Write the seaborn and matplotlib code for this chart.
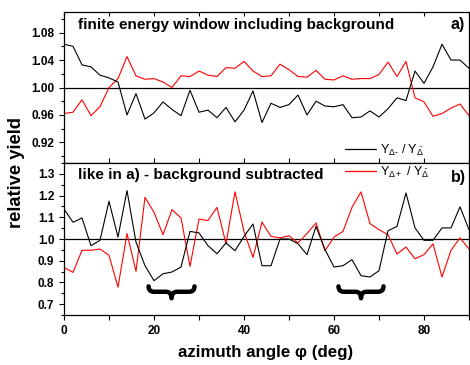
import numpy as np
import matplotlib
matplotlib.use("Agg")
import matplotlib.pyplot as plt
from matplotlib.path import Path
from matplotlib.patches import PathPatch
from matplotlib.lines import Line2D
from matplotlib.ticker import MultipleLocator, FormatStrFormatter
import seaborn as sns

# azimuth angle (deg)
phi = [0, 2, 4, 6, 8, 10, 12, 14, 16, 18, 20, 22, 24, 26, 28, 30, 32, 34, 36, 38,
       40, 42, 44, 46, 48, 50, 52, 54, 56, 58, 60, 62, 64, 66, 68, 70, 72, 74, 76, 78,
       80, 82, 84, 86, 88, 90]

# a) finite energy window including background
top_minus = [1.063, 1.060, 1.033, 1.030, 1.018, 1.014, 1.008, 0.960, 0.991, 0.954,
             0.963, 0.979, 0.968, 0.959, 0.996, 0.964, 0.967, 0.956, 0.971, 0.950,
             0.967, 0.995, 0.949, 0.977, 0.971, 0.975, 0.989, 0.960, 0.980, 0.973,
             0.972, 0.975, 0.956, 0.957, 0.966, 0.957, 0.969, 0.985, 0.981, 1.024,
             1.006, 1.030, 1.063, 1.040, 1.040, 1.028]
top_plus = [0.962, 0.964, 0.982, 0.959, 0.972, 1.000, 1.013, 1.045, 1.017, 1.012,
            1.013, 1.008, 1.000, 1.017, 1.016, 1.024, 1.018, 1.016, 1.029, 1.028,
            1.038, 1.024, 1.016, 1.017, 1.034, 1.026, 1.016, 1.015, 1.025, 1.012,
            1.011, 1.017, 1.012, 1.013, 1.013, 1.019, 1.037, 1.016, 1.038, 0.985,
            0.979, 0.958, 0.962, 0.970, 0.976, 0.959]

# b) background subtracted
bot_minus = [1.138, 1.077, 1.097, 0.969, 0.994, 1.174, 1.009, 1.223, 0.985, 0.877,
             0.808, 0.840, 0.848, 0.871, 1.035, 1.028, 0.969, 0.932, 0.982, 0.946,
             1.012, 1.069, 0.877, 0.877, 1.000, 1.000, 0.978, 0.928, 1.058, 0.951,
             0.871, 0.877, 0.905, 0.831, 0.825, 0.854, 1.038, 1.058, 1.212, 1.051,
             0.994, 0.994, 1.051, 1.051, 1.148, 1.043]
bot_plus = [0.869, 0.846, 0.948, 0.948, 0.954, 0.925, 0.778, 1.025, 0.851, 1.192,
            1.123, 1.020, 1.135, 1.097, 0.874, 1.092, 1.085, 1.146, 0.978, 1.217,
            1.035, 0.915, 1.078, 1.012, 1.005, 1.015, 0.982, 1.025, 1.074, 0.946,
            1.009, 1.035, 1.146, 1.217, 1.071, 1.043, 1.020, 0.931, 0.963, 0.909,
            0.928, 0.978, 0.825, 0.948, 1.005, 0.954]

brace_spans = [(18.8, 29.0), (61.0, 71.0)]

sns.set_style("ticks")
plt.rcParams['font.family'] = ['Liberation Sans', 'DejaVu Sans']
plt.rcParams['mathtext.fontset'] = 'custom'
plt.rcParams['mathtext.rm'] = 'Liberation Sans'
plt.rcParams['mathtext.it'] = 'Liberation Sans'
for key in ['text.color', 'axes.labelcolor', 'xtick.color', 'ytick.color', 'axes.edgecolor']:
    plt.rcParams[key] = 'black'

fig = plt.figure(figsize=(4.7, 3.65), dpi=100)
ax1 = fig.add_axes([64 / 470, 1 - 163 / 365, 405 / 470, 151 / 365])
ax2 = fig.add_axes([64 / 470, 1 - 315 / 365, 405 / 470, 152 / 365])

lw = 0.8
for ax, ym, yp in [(ax1, top_minus, top_plus), (ax2, bot_minus, bot_plus)]:
    ax.axhline(1.0, color='black', lw=0.9, zorder=1)
    sns.lineplot(x=phi, y=ym, ax=ax, color='black', lw=lw, zorder=3)
    sns.lineplot(x=phi, y=yp, ax=ax, color='red', lw=lw, zorder=2)
    ax.set_xlim(0, 90)
    ax.xaxis.set_major_locator(MultipleLocator(20))
    ax.xaxis.set_minor_locator(MultipleLocator(10))
    for s in ax.spines.values():
        s.set_linewidth(0.9)
        s.set_visible(True)
    ax.tick_params(which='both', width=0.8, labelsize=8.5)
    ax.tick_params(axis='y', which='major', direction='out', length=3.5, right=True)
    ax.tick_params(axis='y', which='minor', direction='out', length=2, right=True)
    ax.set_xlabel('')
    ax.set_ylabel('')

ax1.set_ylim(0.89, 1.11)
ax1.yaxis.set_major_locator(MultipleLocator(0.04))
ax1.yaxis.set_minor_locator(MultipleLocator(0.02))
ax1.yaxis.set_major_formatter(FormatStrFormatter('%.2f'))
ax1.tick_params(axis='x', which='both', bottom=False, labelbottom=False,
                top=True, direction='in', length=3)

ax2.set_ylim(0.65, 1.35)
ax2.yaxis.set_major_locator(MultipleLocator(0.1))
ax2.yaxis.set_minor_locator(MultipleLocator(0.05))
ax2.yaxis.set_major_formatter(FormatStrFormatter('%.1f'))
ax2.tick_params(axis='x', which='both', bottom=True, top=True, direction='out', length=3.5)

for ax in (ax1, ax2):
    for lab in ax.get_yticklabels() + ax.get_xticklabels():
        lab.set_fontweight('bold')

ax1.text(0.035, 0.915, 'finite energy window including background', transform=ax1.transAxes,
         fontsize=11, fontweight='bold', va='center', ha='left')
ax1.text(0.955, 0.915, 'a)', transform=ax1.transAxes, fontsize=11.5, fontweight='bold',
         va='center', ha='left')
ax2.text(0.035, 0.92, 'like in a) - background subtracted', transform=ax2.transAxes,
         fontsize=11, fontweight='bold', va='center', ha='left')
ax2.text(0.955, 0.905, 'b)', transform=ax2.transAxes, fontsize=11.5, fontweight='bold',
         va='center', ha='left')

# curly braces under the dips
for x0, x1 in brace_spans:
    xm = (x0 + x1) / 2
    q = 1.2
    ytop, ymid, ybot = 0.782, 0.757, 0.727
    verts = [(x0, ytop), (x0, ymid), (x0 + q, ymid),
             (xm - q, ymid), (xm, ymid), (xm, ybot),
             (xm, ymid), (xm + q, ymid),
             (x1 - q, ymid), (x1, ymid), (x1, ytop)]
    codes = [Path.MOVETO, Path.CURVE3, Path.CURVE3,
             Path.LINETO, Path.CURVE3, Path.CURVE3,
             Path.CURVE3, Path.CURVE3,
             Path.LINETO, Path.CURVE3, Path.CURVE3]
    ax2.add_patch(PathPatch(Path(verts, codes), fill=False, lw=3.2, color='black',
                            capstyle='round', joinstyle='round', zorder=4))

fig.text(17 / 470, 1 - 172 / 365, 'relative yield', rotation=90, fontsize=13.2,
         fontweight='bold', va='center', ha='center')
fig.text(266 / 470, 1 - 353 / 365, 'azimuth angle φ (deg)', fontsize=12.2,
         fontweight='bold', va='center', ha='center')

handles = [Line2D([], [], color='black', lw=0.9), Line2D([], [], color='red', lw=0.9)]
labels = [r'Y$_{\Delta\text{-}}$ / Y$_{\bar{\Delta}}$', r'Y$_{\Delta+}$ / Y$_{\bar{\Delta}}$']
fig.legend(handles, labels, loc='center left', bbox_to_anchor=(345 / 470, 1 - 161 / 365),
           frameon=False, fontsize=9, handlelength=2.5, handletextpad=0.3,
           labelspacing=0.55, borderpad=0, borderaxespad=0)

fig.savefig('out.png', dpi=100)
